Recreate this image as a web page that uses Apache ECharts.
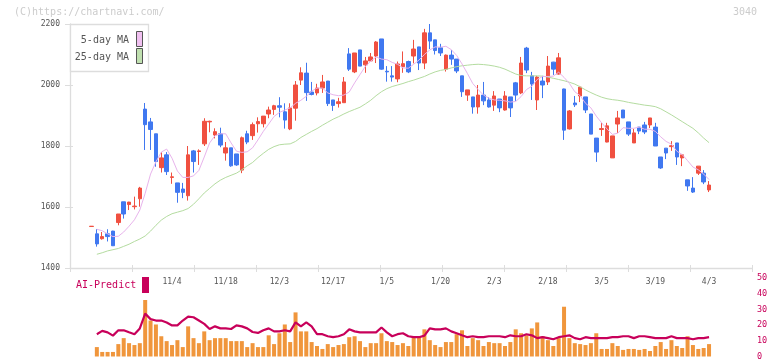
<!DOCTYPE html>
<html>
<head>
<meta charset="utf-8">
<script src="https://cdn.jsdelivr.net/npm/echarts@6/dist/echarts.min.js"></script>
<style>
html,body{margin:0;padding:0;background:#fff;}
#chart{width:772px;height:361px;}
</style>
</head>
<body>
<div id="chart"></div>
<script>
// ---------- DATA ----------
const tickLabels   = ['11/4','11/18','12/3','12/17','1/5','1/20','2/3','2/18','3/5','3/19','4/3'];
const tickLabelIdx = [15, 25, 35, 45, 55, 65, 75, 85, 95, 105, 115];

const open = [1536,1512,1496,1512,1521,1549,1617,1608,1601,1627,1921,1879,1840,1729,1771,1697,1679,1659,1637,1784,
1782,1807,1879,1836,1840,1777,1794,1774,1721,1840,1834,1873,1873,1905,1920,1932,1912,1856,1924,2016,
2039,1977,1974,1990,2013,1951,1939,1942,2102,2043,2115,2066,2079,2095,2151,2045,2030,2020,2060,2077,
2095,2125,2072,2171,2148,2122,2052,2098,2085,2030,1967,1961,1928,1967,1951,1934,1954,1918,1961,2007,
1974,2121,2030,1951,2013,2010,2075,2036,1987,1856,1941,1964,1961,1905,1826,1854,1813,1761,1872,1918,
1879,1810,1862,1869,1869,1862,1764,1793,1798,1810,1761,1689,1662,1711,1711,1656];
const close = [1537,1479,1503,1503,1473,1577,1577,1616,1603,1662,1870,1854,1749,1761,1716,1699,1648,1648,1771,1749,
1784,1881,1881,1847,1803,1794,1735,1738,1827,1813,1870,1880,1898,1918,1932,1927,1885,1925,2000,2040,
1975,1969,1990,2010,1939,1933,1945,2010,2052,2105,2062,2079,2092,2141,2052,2043,2026,2069,2070,2043,
2118,2072,2171,2144,2113,2105,2098,2085,2046,1978,1984,1928,1967,1948,1928,1964,1925,1964,1925,1967,
2072,2049,2003,2026,2000,2062,2052,2089,1852,1915,1935,1993,1918,1839,1780,1857,1866,1833,1892,1892,
1839,1843,1849,1846,1892,1800,1728,1777,1801,1764,1771,1669,1649,1734,1682,1672];
const low = [1536,1470,1493,1487,1472,1540,1562,1590,1592,1601,1787,1787,1732,1713,1705,1676,1614,1629,1621,1713,
1738,1800,1845,1825,1796,1752,1732,1735,1711,1806,1820,1844,1861,1891,1902,1894,1857,1852,1883,2000,
1948,1966,1966,1974,1931,1915,1926,1942,2046,2039,2062,2040,2079,2072,2050,2011,2011,2009,2040,2039,
2071,2049,2052,2118,2100,2095,2044,2066,2039,1961,1948,1906,1906,1934,1926,1915,1911,1916,1895,1948,
1970,2039,1951,1918,1957,2000,2033,2034,1820,1854,1928,1944,1908,1839,1748,1833,1812,1761,1843,1892,
1833,1810,1839,1839,1859,1800,1725,1757,1784,1738,1734,1653,1646,1705,1675,1649];
const high = [1537,1527,1518,1527,1522,1577,1617,1617,1634,1666,1941,1892,1840,1780,1780,1713,1679,1679,1800,1787,
1789,1891,1883,1858,1860,1813,1794,1774,1831,1850,1877,1894,1898,1929,1935,1960,1940,1940,2013,2058,
2073,2010,2004,2033,2013,1951,1958,2026,2121,2105,2115,2092,2105,2144,2151,2062,2062,2077,2110,2080,
2148,2125,2184,2200,2148,2135,2100,2115,2085,2030,1984,1961,2000,2010,1960,1980,1954,1980,1961,2010,
2092,2125,2043,2030,2030,2095,2076,2105,1988,1918,1964,1997,1961,1905,1826,1876,1876,1833,1915,1918,
1879,1856,1862,1879,1892,1876,1764,1793,1816,1810,1771,1689,1698,1734,1721,1685];

const ma5 = ['-',1527,1522,1512,1503,1504,1518,1537,1558,1590,1645,1708,1748,1780,1790,1760,1718,1697,1697,1702,
1720,1764,1810,1834,1840,1840,1810,1783,1779,1781,1794,1820,1848,1872,1897,1910,1918,1925,1940,1950,
1963,1980,1990,1990,1974,1968,1965,1967,1977,2007,2034,2061,2078,2092,2085,2083,2074,2068,2056,2055,
2068,2082,2100,2115,2125,2124,2127,2116,2097,2069,2038,2005,1985,1967,1957,1951,1950,1948,1944,1946,
1962,1985,1996,2018,2028,2028,2029,2042,2025,2005,1978,1965,1940,1925,1898,1876,1856,1838,1842,1860,
1858,1858,1862,1855,1855,1848,1830,1815,1806,1783,1772,1752,1731,1722,1708,1690];
const ma25 = ['-',1445,1450,1456,1460,1464,1471,1478,1487,1495,1505,1521,1540,1557,1569,1578,1583,1588,1595,1609,
1627,1646,1661,1676,1688,1697,1704,1711,1722,1735,1746,1762,1776,1789,1798,1804,1806,1807,1815,1828,
1838,1848,1857,1868,1878,1888,1896,1905,1913,1920,1927,1938,1950,1965,1978,1988,1995,2000,2005,2011,
2016,2022,2028,2036,2043,2048,2051,2056,2060,2063,2065,2067,2068,2067,2065,2062,2058,2052,2044,2036,
2031,2030,2030,2030,2029,2026,2022,2018,2014,2009,2003,1994,1984,1975,1967,1960,1955,1952,1950,1947,
1943,1940,1937,1934,1932,1929,1922,1912,1902,1891,1880,1869,1858,1843,1826,1811];

const volume = ['-',6.0,2.9,2.9,2.9,7.9,11.7,8.5,7.3,8.5,36,22.9,20.4,12.9,9.8,7.3,10.4,6.0,19.2,11.7,
8.5,16,10.4,11.7,11.7,11.7,9.8,9.8,9.8,6.0,8.5,6.0,6.0,13.5,7.9,14.8,20.4,9.2,28.1,16,
16,9.2,6.7,4.8,7.9,6.0,7.3,7.9,12.3,12.9,9.8,6.0,8.5,8.5,14.8,9.8,9.2,7.3,8.5,6.7,
12.3,12.3,17.3,10.4,7.3,6.0,9.2,9.2,14.2,16.7,6.7,11.7,10.4,6.7,9.2,8.5,8.5,6.7,9.2,17.3,
14.8,13.5,17.9,21.7,12.9,10.4,6.7,11.7,31.7,11.7,8.5,7.9,7.3,8.5,14.8,4.8,4.8,8.5,6.7,4.2,
4.8,4.8,4.2,4.8,3.5,6.7,9.2,4.8,10.4,6.7,5.4,12.9,7.3,4.8,5.4,7.9];
const aiPredict = ['-',14.2,16.3,15.4,13.3,16.7,16.7,15.4,14.2,17.9,27.3,23.8,22.9,22.9,21.7,19.8,19.8,22.9,25.4,25,
22.9,20.8,17.5,19.2,17.9,17.9,17.5,19.8,19.2,17.9,15.6,15.0,16.7,17.9,16,16,16.7,16,21.7,19.2,
21.7,19.2,14.2,14.2,12.9,12.3,12.9,14.2,17.3,16,15.4,15.4,15.4,15.4,18.5,15.4,12.9,14.2,14.8,12.9,
12.3,12.3,13.3,17.9,17.3,17.3,17.9,16,14.8,13.5,12.3,12.9,12.3,12.3,12.9,12.9,12.9,12.3,13.5,12.9,
12.9,14.2,13.5,11.7,12.3,11.7,11,12.3,12.9,13.5,11.7,11,12.3,11.7,11.7,11.7,11.7,12.3,12.3,12.9,
12.9,11.7,12.9,12.9,12.3,11.7,11.7,11.7,12.9,11.7,11.7,11.7,11,11.7,11.7,12.3];

// ---------- LAYOUT ----------
const PAD_LEFT = 4, TOTAL_SLOTS = 128;
const cats = Array.from({length: TOTAL_SLOTS}, (_, i) => String(i));
const labelMap = {};
tickLabelIdx.forEach((d, k) => { labelMap[d + PAD_LEFT] = tickLabels[k]; });

const RED = '#f05040', BLUE = '#4078f0';
const MONO = 'DejaVu Sans Mono';

const candleData = open.map((o, i) => [i + PAD_LEFT, o, close[i], low[i], high[i]]);
const toXY = arr => arr.map((v, i) => v === '-' ? null : [i + PAD_LEFT, v]).filter(Boolean);

const chart = echarts.init(document.getElementById('chart'), null, {renderer: 'canvas'});
const tickStyle = {color: '#dddddd', width: 1};

chart.setOption({
  animation: false,
  backgroundColor: '#ffffff',
  grid: [
    {left: 70, top: 24, width: 682, height: 244},
    {left: 70, top: 278, width: 682, height: 80}
  ],
  xAxis: [
    {type: 'category', gridIndex: 0, data: cats, boundaryGap: false, position: 'bottom',
     axisLine: {show: false}, axisTick: {show: false}, splitLine: {show: false},
     axisLabel: {interval: 0, margin: 10, fontSize: 8, color: '#555', fontFamily: MONO,
                 formatter: (v) => labelMap[v] || ''}},
    {type: 'value', gridIndex: 0, min: 0, max: 11, interval: 1, position: 'bottom',
     axisLine: {show: true, lineStyle: {color: '#dddddd', width: 1.3}},
     axisTick: {show: true, length: 4, lineStyle: tickStyle},
     axisLabel: {show: false}, splitLine: {show: false}},
    {type: 'value', gridIndex: 0, min: 0, max: 11, interval: 1, position: 'bottom',
     axisLine: {show: false},
     axisTick: {show: true, inside: true, length: 3, lineStyle: tickStyle},
     axisLabel: {show: false}, splitLine: {show: false}},
    {type: 'category', gridIndex: 1, data: cats, boundaryGap: false, show: false}
  ],
  yAxis: [
    {type: 'value', gridIndex: 0, min: 1400, max: 2200, interval: 200, position: 'left',
     axisLine: {show: true, lineStyle: {color: '#dddddd', width: 1.3}},
     axisTick: {show: true, length: 5, lineStyle: tickStyle},
     axisLabel: {margin: 10, fontSize: 8, color: '#555', fontFamily: MONO, formatter: (v) => String(v)},
     splitLine: {show: false}},
    {type: 'value', gridIndex: 0, min: 1400, max: 2200, interval: 200, position: 'left',
     axisLine: {show: false},
     axisTick: {show: true, inside: true, length: 3, lineStyle: tickStyle},
     axisLabel: {show: false}, splitLine: {show: false}},
    {type: 'value', gridIndex: 1, min: 0, max: 50, interval: 10, position: 'right',
     axisLine: {show: false}, axisTick: {show: false}, splitLine: {show: false},
     axisLabel: {margin: 5, fontSize: 8.5, color: '#c8005a', fontFamily: MONO}}
  ],
  series: [
    {type: 'candlestick', name: 'price', xAxisIndex: 0, yAxisIndex: 0,
     data: candleData, encode: {x: 0, y: [1, 2, 3, 4]}, barWidth: 4,
     itemStyle: {color: RED, color0: BLUE, borderColor: RED, borderColor0: BLUE,
                 borderColorDoji: RED, borderWidth: 1}},
    {type: 'line', name: '25-day MA', xAxisIndex: 0, yAxisIndex: 0, data: toXY(ma25),
     symbol: 'none', lineStyle: {color: '#b4dca0', width: 1}, z: 3},
    {type: 'line', name: '5-day MA', xAxisIndex: 0, yAxisIndex: 0, data: toXY(ma5),
     symbol: 'none', lineStyle: {color: '#e8b4ec', width: 1}, z: 3},
    {type: 'bar', name: 'volume', xAxisIndex: 3, yAxisIndex: 2, data: toXY(volume),
     barWidth: 4, itemStyle: {color: '#f0963c'}},
    {type: 'line', name: 'AI-Predict', xAxisIndex: 3, yAxisIndex: 2, data: toXY(aiPredict),
     symbol: 'none', lineStyle: {color: '#c8005a', width: 2.2}, z: 4}
  ],
  graphic: [
    {type: 'text', left: 14, top: 7, style: {text: '(C)https://chartnavi.com/', fill: '#cccccc', font: '10px "DejaVu Sans Mono"'}},
    {type: 'text', left: 733, top: 7, style: {text: '3040', fill: '#cccccc', font: '10px "DejaVu Sans Mono"'}},
    {type: 'rect', shape: {x: 70.5, y: 24.5, width: 78, height: 47}, style: {fill: '#ffffff', stroke: '#dddddd', lineWidth: 1.3}, z: 10},
    {type: 'text', x: 129, y: 40, style: {text: '5-day MA', fill: '#555', font: '10px "DejaVu Sans Mono"', textAlign: 'right', textVerticalAlign: 'middle'}, z: 11},
    {type: 'text', x: 129, y: 57, style: {text: '25-day MA', fill: '#555', font: '10px "DejaVu Sans Mono"', textAlign: 'right', textVerticalAlign: 'middle'}, z: 11},
    {type: 'rect', shape: {x: 136.5, y: 31.5, width: 6, height: 15}, style: {fill: '#f0c0f0', stroke: '#555', lineWidth: 1}, z: 11},
    {type: 'rect', shape: {x: 136.5, y: 48.5, width: 6, height: 15}, style: {fill: '#c0e0b0', stroke: '#555', lineWidth: 1}, z: 11},
    {type: 'text', x: 76, y: 285, style: {text: 'AI-Predict', fill: '#c8005a', font: '10px "DejaVu Sans Mono"', textVerticalAlign: 'middle'}, z: 11},
    {type: 'rect', shape: {x: 142, y: 277, width: 7, height: 16}, style: {fill: '#c8005a'}, z: 11}
  ]
});
</script>
</body>
</html>
